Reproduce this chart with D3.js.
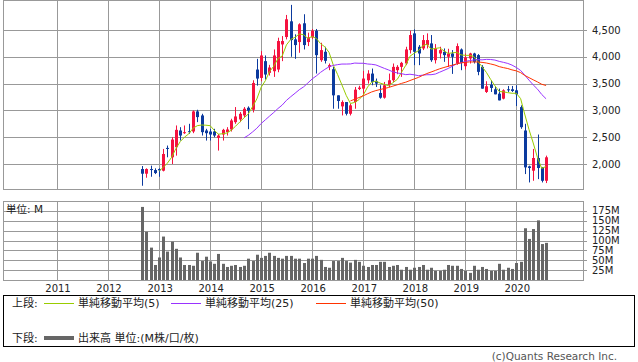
<!DOCTYPE html>
<html>
<head>
<meta charset="utf-8">
<script src="https://cdn.jsdelivr.net/npm/d3@7"></script>
<style>
body { margin: 0; background: #fff; }
svg { display: block; font-family: "DejaVu Sans", "Noto Sans CJK JP", sans-serif; }
</style>
</head>
<body>
<svg width="638" height="362"></svg>
<script>
// monthly candles, Sep 2012 .. Aug 2020
var openP  = [1906,1819,1906,1887,1906,1875,2300,2125,2312,2625,2575,2612,2606,2981,2906,2625,2606,2606,2487,2550,2594,2644,2781,2831,2906,
              3050,3012,3762,3606,3919,3700,3731,3762,4231,4369,4662,4325,4275,4625,4275,4362,4487,3937,4094,3812,3769,3281,3075,3156,2937,
              3156,3400,3406,3562,3687,3544,3325,3237,3469,3562,3750,3812,3875,4125,4437,4187,4156,4219,4250,3937,4062,4094,4000,4062,3875,
              4137,3825,3969,4062,4031,3812,3344,3481,3394,3312,3219,3394,3394,3375,3062,2625,1956,1875,2112,1937,1687];
var highP  = [1962,1919,1969,1919,1919,2281,2344,2500,2719,2687,2719,2750,3000,3012,2937,2656,2656,2656,2562,2656,2687,2844,3062,2969,3062,
              3075,3562,3962,4106,4025,3850,4137,4356,4387,4781,4969,4419,4625,4794,4450,4519,4519,4262,4187,3875,3812,3281,3187,3156,3125,
              3437,3460,3737,3750,3781,3594,3469,3531,3687,3875,3844,3906,4187,4487,4512,4219,4406,4437,4406,4237,4187,4156,4150,4125,4250,
              4156,4062,4075,4075,4050,3844,3544,3562,3456,3406,3394,3456,3456,3469,3094,2750,1969,2281,2550,1937,2156];
var lowP   = [1594,1744,1762,1812,1762,1862,2125,2000,2156,2437,2562,2562,2575,2781,2531,2437,2437,2500,2250,2437,2531,2606,2750,2781,2869,
              2650,2962,3462,3544,3575,3650,3625,3712,3919,4325,4000,3962,4075,4137,4200,4331,3687,3906,3875,3750,3031,3031,2906,2906,2906,
              3031,3380,3281,3500,3469,3437,3219,3219,3437,3531,3675,3625,3844,4062,3844,3844,4125,4156,3906,3875,3969,3906,3812,3681,3850,
              3750,3762,3875,3875,3656,3406,3325,3344,3300,3187,3206,3344,3344,3081,2656,1812,1656,1687,1718,1656,1644];
var closeP = [1819,1906,1900,1831,1881,2187,2281,2456,2637,2531,2594,2594,2981,2875,2594,2575,2550,2531,2531,2637,2644,2812,2887,2937,3031,
              2994,3512,3594,4025,3669,3800,4025,4294,4294,4700,4312,4219,4606,4219,4362,4487,4031,4125,3925,3844,3281,3175,3156,2937,3094,
              3387,3425,3594,3687,3531,3500,3237,3469,3562,3812,3812,3887,4137,4406,4094,4062,4312,4312,3937,4156,4125,4031,4062,4000,4200,
              3887,3987,4062,3906,3719,3406,3450,3419,3300,3187,3375,3375,3362,3300,2687,1937,1925,2112,1925,1687,2125];
// volume, millions
var volume = [185,122,82,38,57,110,72,97,79,57,38,38,36,69,48,59,47,41,66,41,33,36,38,33,36,
              54,48,64,56,61,69,61,56,54,61,61,54,54,43,54,54,61,51,33,31,48,48,56,48,44,
              51,46,36,33,38,38,46,46,33,36,38,26,33,26,31,33,38,26,31,23,23,26,38,36,36,
              28,23,18,36,26,33,28,23,23,41,26,31,28,43,46,131,104,129,151,91,94];

var priceTicks = [2000, 2500, 3000, 3500, 4000, 4500];
var volumeTicks = [25, 50, 75, 100, 125, 150, 175];
var yearTicks = [2011, 2012, 2013, 2014, 2015, 2016, 2017, 2018, 2019, 2020];
var maPeriods = [5, 25, 50];
var maColors = ["#99cc00", "#9933ff", "#ff3300"];
var maLabels = ["単純移動平均(5)", "単純移動平均(25)", "単純移動平均(50)"];

var months = d3.timeMonth.range(new Date(2012, 8, 1), new Date(2020, 8, 1));

var svg = d3.select("svg");
var gridColor = "#999999", upColor = "#f5123f", downColor = "#0b3a9e";
var left = 3, right = 583;
var priceTop = 1, priceBottom = 190, volTop = 201, volBottom = 280;

var x = d3.scaleTime()
  .domain([new Date(2011, 0, 1), new Date(2020, 0, 1)])
  .range([57, 516.3]);
var y = d3.scaleLinear().domain([2000, 4500]).range([164, 30]);
var yv = d3.scaleLinear().domain([0, 200]).range([volBottom, volTop]);

function px(v) { return Math.round(v) + 0.5; }

// ---- price panel grid
var gp = svg.append("g");
gp.selectAll("line.h").data(priceTicks).enter().append("line")
  .attr("x1", left).attr("x2", right + 4)
  .attr("y1", d => px(y(d))).attr("y2", d => px(y(d)))
  .attr("stroke", gridColor);
gp.selectAll("line.v").data(yearTicks).enter().append("line")
  .attr("x1", d => px(x(new Date(d, 0, 1)))).attr("x2", d => px(x(new Date(d, 0, 1))))
  .attr("y1", priceTop).attr("y2", priceBottom)
  .attr("stroke", gridColor);
gp.append("rect")
  .attr("x", left + 0.5).attr("y", priceTop - 0.5)
  .attr("width", right - left).attr("height", priceBottom - priceTop)
  .attr("fill", "none").attr("stroke", gridColor);
gp.selectAll("text").data(priceTicks).enter().append("text")
  .attr("x", 592).attr("y", d => y(d)).attr("dy", "0.36em")
  .attr("font-size", 10).attr("fill", "#222")
  .text(d => d3.format(",")(d));

// ---- volume panel grid
var gv = svg.append("g");
gv.selectAll("line.h").data(volumeTicks).enter().append("line")
  .attr("x1", left).attr("x2", right + 4)
  .attr("y1", d => px(yv(d))).attr("y2", d => px(yv(d)))
  .attr("stroke", gridColor);
gv.selectAll("line.v").data(yearTicks).enter().append("line")
  .attr("x1", d => px(x(new Date(d, 0, 1)))).attr("x2", d => px(x(new Date(d, 0, 1))))
  .attr("y1", volTop).attr("y2", volBottom)
  .attr("stroke", gridColor);
gv.append("rect")
  .attr("x", left + 0.5).attr("y", volTop + 0.5)
  .attr("width", right - left).attr("height", volBottom - volTop)
  .attr("fill", "none").attr("stroke", gridColor);
gv.selectAll("text").data(volumeTicks).enter().append("text")
  .attr("x", 592).attr("y", d => yv(d)).attr("dy", "0.36em")
  .attr("font-size", 10).attr("fill", "#222")
  .text(d => d + "M");
gv.append("text")
  .attr("x", 6).attr("y", 213)
  .attr("font-size", 10.5).attr("fill", "#222")
  .text("単位: M");

// year labels
svg.append("g").selectAll("text").data(yearTicks).enter().append("text")
  .attr("x", d => x(new Date(d, 0, 1)) + 1).attr("y", 292)
  .attr("text-anchor", "middle")
  .attr("font-size", 10).attr("fill", "#222")
  .text(d => d);

// ---- volume bars
svg.append("g").selectAll("rect").data(volume).enter().append("rect")
  .attr("x", (d, i) => Math.round(x(months[i]) - 1))
  .attr("y", d => yv(d))
  .attr("width", 3)
  .attr("height", d => volBottom - yv(d))
  .attr("fill", "#666666");

// ---- candles
var candles = svg.append("g").selectAll("g").data(months).enter().append("g");
candles.append("line")
  .attr("x1", (d, i) => Math.round(x(d)) + 0.5).attr("x2", (d, i) => Math.round(x(d)) + 0.5)
  .attr("y1", (d, i) => y(highP[i])).attr("y2", (d, i) => y(lowP[i]))
  .attr("stroke", (d, i) => closeP[i] >= openP[i] ? upColor : downColor);
candles.append("rect")
  .attr("x", (d, i) => Math.round(x(d)) - 1)
  .attr("y", (d, i) => y(Math.max(openP[i], closeP[i])))
  .attr("width", 3)
  .attr("height", (d, i) => Math.max(1, Math.abs(y(openP[i]) - y(closeP[i]))))
  .attr("fill", (d, i) => closeP[i] >= openP[i] ? upColor : downColor);

// ---- moving averages of the closes
maPeriods.forEach(function (n, k) {
  var ma = closeP.map(function (c, i) {
    return i < n - 1 ? null : d3.mean(closeP.slice(i - n + 1, i + 1));
  });
  var line = d3.line()
    .defined(d => d != null)
    .x((d, i) => x(months[i]))
    .y(d => y(d));
  svg.append("path")
    .datum(ma)
    .attr("d", line)
    .attr("fill", "none")
    .attr("stroke", maColors[k])
    .attr("stroke-width", 1);
});

// ---- legend
var lg = svg.append("g").attr("font-size", 11).attr("fill", "#222");
lg.append("rect")
  .attr("x", 3.5).attr("y", 295.5).attr("width", 631).attr("height", 51)
  .attr("fill", "none").attr("stroke", "#000");
lg.append("text").attr("x", 12).attr("y", 307).text("上段:");
var legX = [44, 171, 316];
maLabels.forEach(function (t, k) {
  lg.append("line")
    .attr("x1", legX[k]).attr("x2", legX[k] + 30)
    .attr("y1", 303.5).attr("y2", 303.5)
    .attr("stroke", maColors[k]);
  lg.append("text").attr("x", legX[k] + 34).attr("y", 307).text(t);
});
lg.append("text").attr("x", 12).attr("y", 342).text("下段:");
lg.append("line")
  .attr("x1", 44).attr("x2", 74).attr("y1", 338).attr("y2", 338)
  .attr("stroke", "#666666").attr("stroke-width", 4);
lg.append("text").attr("x", 78).attr("y", 342).text("出来高 単位:(M株/口/枚)");

svg.append("text")
  .attr("x", 617).attr("y", 360)
  .attr("text-anchor", "end")
  .attr("font-size", 10.5).attr("fill", "#555")
  .text("(c)Quants Research Inc.");
</script>
</body>
</html>
